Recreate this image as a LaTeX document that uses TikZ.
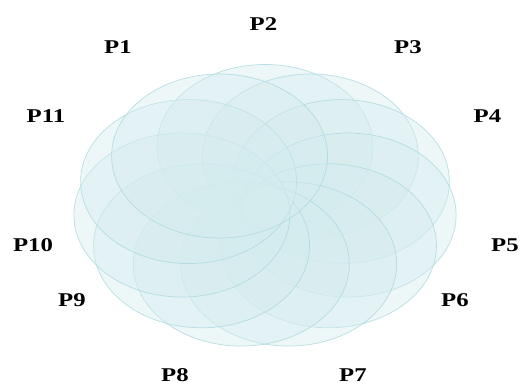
\documentclass[tikz,border=0pt]{standalone}
\usepackage{fontspec}
\setmainfont{Liberation Serif}
\begin{document}
\begin{tikzpicture}[x=1pt,y=-1pt,
  petal/.style={fill={rgb,255:red,212;green,236;blue,238},fill opacity=0.4,
    draw={rgb,255:red,170;green,216;blue,222},draw opacity=0.8,line width=0.7pt},
  plabel/.style={font=\fontsize{19.5}{20}\selectfont\bfseries,inner sep=0pt,xscale=1.27}]
\useasboundingbox (0,0) rectangle (520,385);
\fill[white] (0,0) rectangle (520,385);
\foreach \k in {0,...,10}{
  \pgfmathsetmacro{\ang}{90-\k*360/11}
  \path[petal] ({265+84*cos(\ang)},{205-60*sin(\ang)+1.5}) ellipse [x radius=108, y radius=82];
}
\node[plabel] (p1) at (118,47.5) {P1};
\node[plabel] (p2) at (263.5,24) {P2};
\node[plabel] (p3) at (408,47.5) {P3};
\node[plabel] (p4) at (487.5,116) {P4};
\node[plabel] (p5) at (505,245) {P5};
\node[plabel] (p6) at (455,300) {P6};
\node[plabel] (p7) at (353,375) {P7};
\node[plabel] (p8) at (175,375) {P8};
\node[plabel] (p9) at (72,300) {P9};
\node[plabel] (p10) at (33,245) {P10};
\node[plabel] (p11) at (46,116) {P11};
\end{tikzpicture}
\end{document}
